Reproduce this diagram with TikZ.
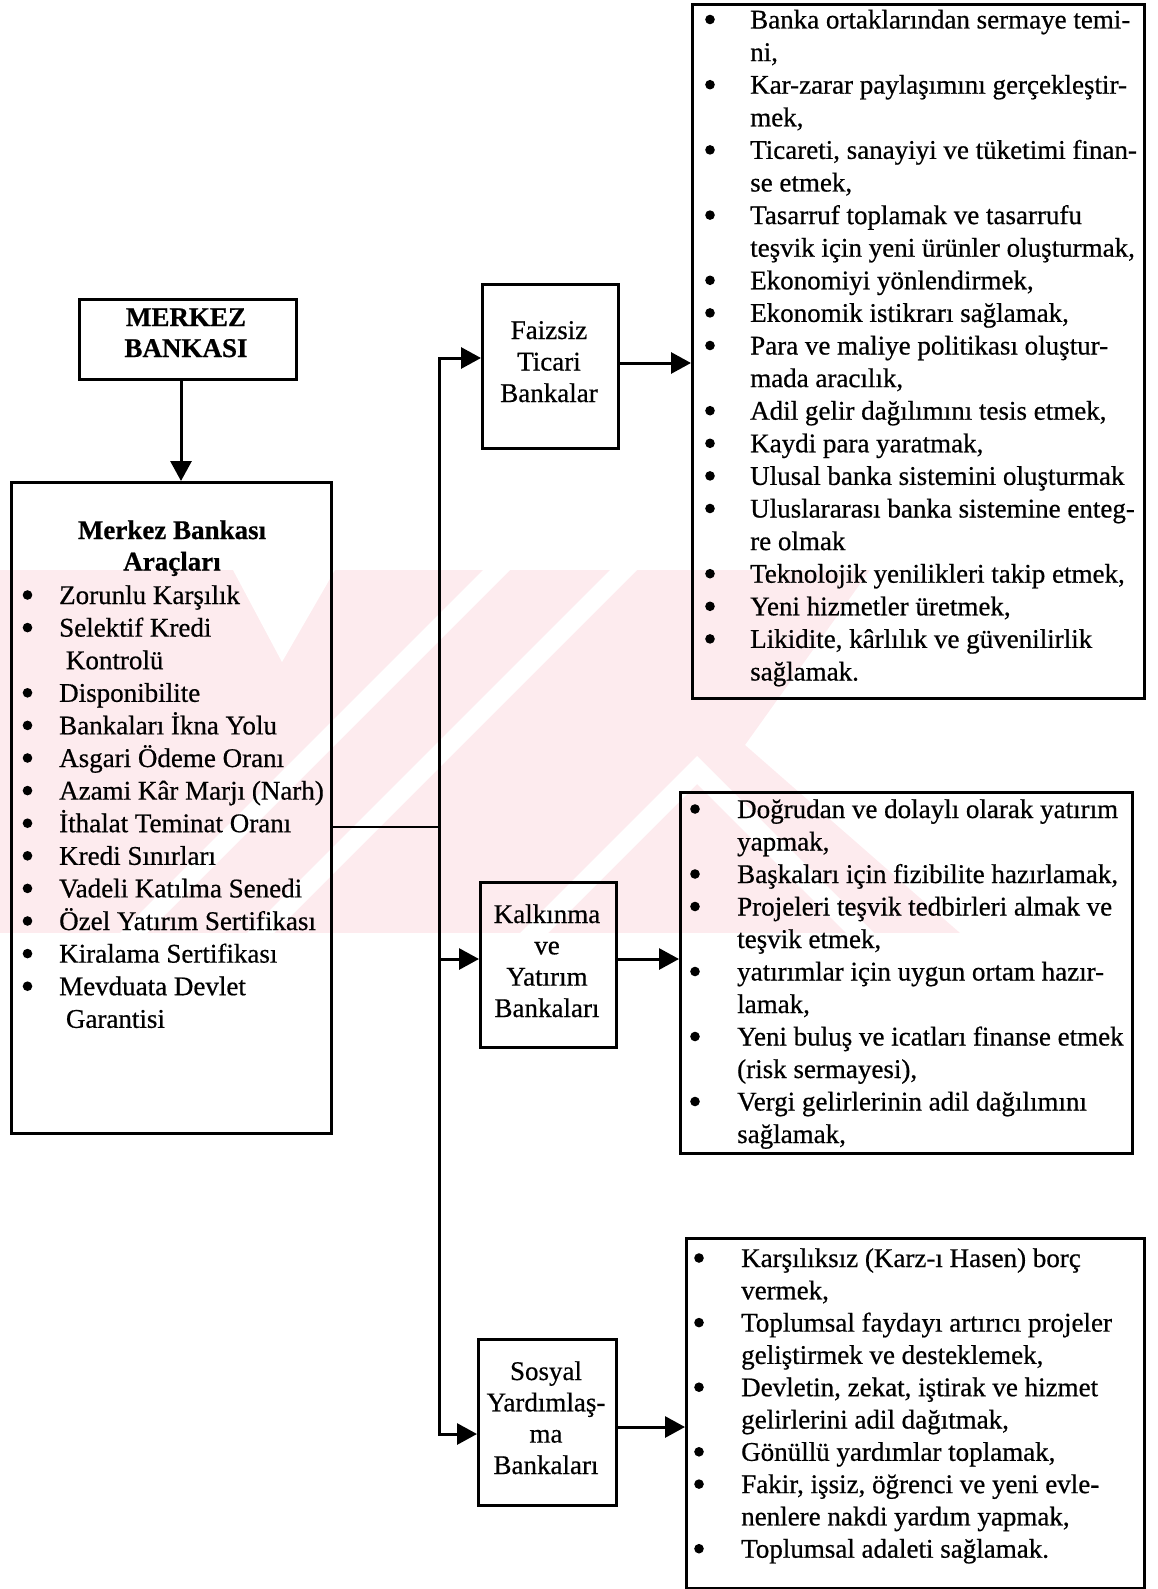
\documentclass[tikz,border=0pt]{standalone}
\usepackage{fontspec}
\setmainfont{Liberation Serif}[FakeBold=0.6]
\usetikzlibrary{arrows.meta}
\definecolor{wmpink}{RGB}{253,235,238}
\newcommand\bodyfont{\fontsize{27}{32.4}\selectfont}
\newcommand\headfont{\fontsize{27}{32.4}\selectfont\bfseries}
\begin{document}
\begin{tikzpicture}[x=1pt,y=-1pt,
  frame/.style={draw, line width=3pt, inner sep=0pt, anchor=north west},
  ln/.style={anchor=base west, inner sep=0pt, font=\bodyfont},
  ctr/.style={anchor=base, inner sep=0pt, font=\bodyfont},
  hd/.style={anchor=base, inner sep=0pt, font=\headfont},
  wire/.style={line width=3pt},
  arr/.style={wire, -{Triangle[length=20pt,width=21pt]}}
]
\useasboundingbox (0,0) rectangle (1157,1589);

% faint background emblem
\begin{scope}
  \clip (0,570) -- (870,570) -- (745,745) -- (960,933) -- (0,933) -- cycle;
  \fill[wmpink] (0,570) rectangle (960,933);
  \foreach \s in {483,610}
    \fill[white] (\s,570) -- (\s+27,570) -- (\s-373,970) -- (\s-400,970) -- cycle;
  \fill[white] (233,570) -- (335,570) -- (282,662) -- cycle;
  \fill[white] (520,933) -- (697,756) -- (874,933) -- (846,933) -- (697,784) -- (548,933) -- cycle;
\end{scope}

% boxes
\node[frame, minimum width=217pt, minimum height=80pt]  (mb) at (78,298) {};
\node[frame, minimum width=320pt, minimum height=651pt] (lb) at (10,481) {};
\node[frame, minimum width=136pt, minimum height=164pt] (fz) at (481,283) {};
\node[frame, minimum width=136pt, minimum height=165pt] (kb) at (479,881) {};
\node[frame, minimum width=138pt, minimum height=166pt] (sb) at (477,1338) {};
\node[frame, minimum width=452pt, minimum height=694pt] (tr) at (691,3) {};
\node[frame, minimum width=452pt, minimum height=361pt] (mr) at (679,791) {};
\node[frame, minimum width=458pt, minimum height=350pt] (br) at (685,1237) {};

% central bank box
\node[hd] (mb1) at (186,326) {MERKEZ};
\node[hd] (mb2) at (186,357) {BANKASI};

% instruments box
\node[hd] (lt1) at (172,539) {Merkez Bankası};
\node[hd] (lt2) at (172,570.5) {Araçları};
\foreach \t [count=\i from 0] in {Zorunlu Karşılık, Selektif Kredi, {\ Kontrolü}, Disponibilite,
  Bankaları İkna Yolu, Asgari Ödeme Oranı, Azami Kâr Marjı (Narh), İthalat Teminat Oranı,
  Kredi Sınırları, Vadeli Katılma Senedi, Özel Yatırım Sertifikası, Kiralama Sertifikası,
  Mevduata Devlet, {\ Garantisi}}
  \node[ln] (li\i) at (59,{604+32.6*\i}) {\t};
\foreach \i in {0,1,3,4,5,6,7,8,9,10,11,12}
  \fill (27.5,{604+32.6*\i-9}) circle (4.8);

% bank type boxes
\node[ctr] (fz1) at (549,339) {Faizsiz};
\node[ctr] (fz2) at (549,370.5) {Ticari};
\node[ctr] (fz3) at (549,402) {Bankalar};

\node[ctr] (kb1) at (547,923) {Kalkınma};
\node[ctr] (kb2) at (547,954.3) {ve};
\node[ctr] (kb3) at (547,985.6) {Yatırım};
\node[ctr] (kb4) at (547,1017) {Bankaları};

\node[ctr] (sb1) at (546,1380) {Sosyal};
\node[ctr] (sb2) at (546,1411.3) {Yardımlaş-};
\node[ctr] (sb3) at (546,1442.6) {ma};
\node[ctr] (sb4) at (546,1474) {Bankaları};

% aims of interest-free commercial banks
\foreach \t [count=\i from 0] in {Banka ortaklarından sermaye temi-, {ni,},
  Kar-zarar paylaşımını gerçekleştir-, {mek,},
  {Ticareti, sanayiyi ve tüketimi finan-}, {se etmek,},
  Tasarruf toplamak ve tasarrufu, {teşvik için yeni ürünler oluşturmak,},
  {Ekonomiyi yönlendirmek,}, {Ekonomik istikrarı sağlamak,},
  Para ve maliye politikası oluştur-, {mada aracılık,},
  {Adil gelir dağılımını tesis etmek,}, {Kaydi para yaratmak,},
  Ulusal banka sistemini oluşturmak, Uluslararası banka sistemine enteg-, re olmak,
  {Teknolojik yenilikleri takip etmek,}, {Yeni hizmetler üretmek,},
  {Likidite, kârlılık ve güvenilirlik}, sağlamak.}
  \node[ln] (ta\i) at (750,{28.5+32.6*\i}) {\t};
\foreach \i in {0,2,4,6,8,9,10,12,13,14,15,17,18,19}
  \fill (710,{28.5+32.6*\i-9}) circle (4.8);

% aims of development and investment banks
\foreach \t [count=\i from 0] in {Doğrudan ve dolaylı olarak yatırım, {yapmak,},
  {Başkaları için fizibilite hazırlamak,}, Projeleri teşvik tedbirleri almak ve, {teşvik etmek,},
  yatırımlar için uygun ortam hazır-, {lamak,},
  Yeni buluş ve icatları finanse etmek, {(risk sermayesi),},
  Vergi gelirlerinin adil dağılımını, {sağlamak,}}
  \node[ln] (ma\i) at (737,{818+32.5*\i}) {\t};
\foreach \i in {0,2,3,5,7,9}
  \fill (695,{818+32.5*\i-9}) circle (4.8);

% aims of social solidarity banks
\foreach \t [count=\i from 0] in {Karşılıksız (Karz-ı Hasen) borç, {vermek,},
  Toplumsal faydayı artırıcı projeler, {geliştirmek ve desteklemek,},
  {Devletin, zekat, iştirak ve hizmet}, {gelirlerini adil dağıtmak,},
  {Gönüllü yardımlar toplamak,}, {Fakir, işsiz, öğrenci ve yeni evle-},
  {nenlere nakdi yardım yapmak,}, Toplumsal adaleti sağlamak.}
  \node[ln] (ba\i) at (741,{1267+32.3*\i}) {\t};
\foreach \i in {0,2,4,6,7,9}
  \fill (699,{1267+32.3*\i-9}) circle (4.8);

% connectors
\coordinate (down) at (181,0);
\draw[arr] (down |- mb.south) -- (down |- lb.north);

\coordinate (jm) at (439,827);
\coordinate (jt) at (439,358);
\coordinate (jk) at (439,959);
\coordinate (jb) at (439,1434);
\draw[line width=2.4pt] (jm -| lb.east) -- (jm);
\draw[arr] (jm) |- (jt -| fz.west);
\draw[arr] (jm) |- (jb -| sb.west);
\draw[arr] (jk) -- (jk -| kb.west);

\coordinate (ot) at (0,363);
\coordinate (ok) at (0,959);
\coordinate (ob) at (0,1427);
\draw[arr] (ot -| fz.east) -- (ot -| tr.west);
\draw[arr] (ok -| kb.east) -- (ok -| mr.west);
\draw[arr] (ob -| sb.east) -- (ob -| br.west);
\end{tikzpicture}
\end{document}
